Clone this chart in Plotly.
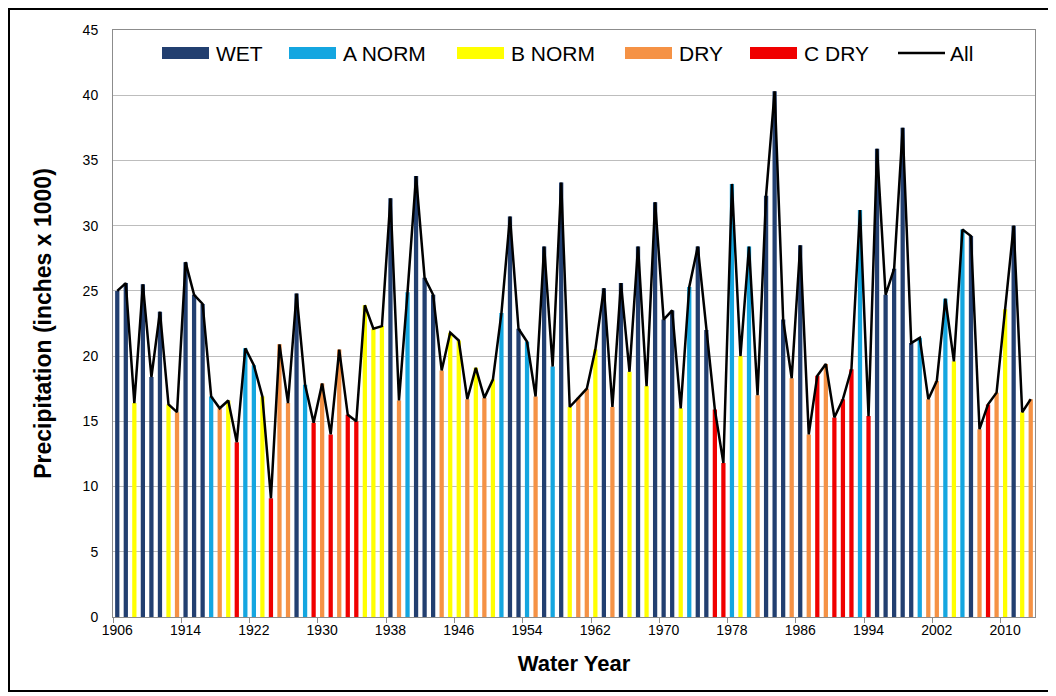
import plotly.graph_objects as go

# ---------------- data ----------------
years = list(range(1906, 2014))

precip = [
    25.0, 25.6, 16.4, 25.5, 18.4, 23.4, 16.3, 15.7, 27.2, 24.7,   # 1906-1915
    24.0, 16.9, 16.0, 16.6, 13.4, 20.6, 19.3, 16.9, 9.1, 20.9,    # 1916-1925
    16.4, 24.8, 17.8, 14.9, 17.9, 14.0, 20.5, 15.5, 15.0, 23.9,   # 1926-1935
    22.1, 22.3, 32.1, 16.6, 24.9, 33.8, 26.0, 24.7, 18.9, 21.8,   # 1936-1945
    21.2, 16.7, 19.1, 16.8, 18.2, 23.3, 30.7, 22.1, 21.1, 16.9,   # 1946-1955
    28.4, 19.2, 33.3, 16.1, 16.8, 17.5, 20.5, 25.2, 16.1, 25.6,   # 1956-1965
    18.8, 28.4, 17.7, 31.8, 22.8, 23.5, 16.0, 25.3, 28.4, 22.0,   # 1966-1975
    15.9, 11.8, 33.2, 20.0, 28.4, 17.0, 32.3, 40.3, 22.8, 18.3,   # 1976-1985
    28.5, 14.0, 18.5, 19.4, 15.3, 16.7, 19.0, 31.2, 15.4, 35.9,   # 1986-1995
    24.7, 26.7, 37.5, 21.0, 21.4, 16.7, 18.1, 24.4, 19.6, 29.7,   # 1996-2005
    29.2, 14.4, 16.3, 17.2, 23.6, 30.0, 15.7, 16.7,               # 2006-2013
]

year_type = [
    "W", "W", "BN", "W", "W", "W", "BN", "D", "W", "W",
    "W", "AN", "D", "BN", "C", "AN", "AN", "BN", "C", "D",
    "D", "W", "AN", "C", "D", "C", "D", "C", "C", "BN",
    "BN", "BN", "W", "D", "AN", "W", "W", "W", "D", "BN",
    "BN", "D", "BN", "D", "BN", "AN", "W", "W", "AN", "D",
    "W", "AN", "W", "BN", "D", "D", "BN", "W", "D", "W",
    "BN", "W", "BN", "W", "W", "W", "BN", "AN", "W", "W",
    "C", "C", "AN", "BN", "AN", "D", "W", "W", "W", "D",
    "W", "D", "C", "D", "C", "C", "C", "AN", "C", "W",
    "W", "W", "W", "W", "AN", "D", "D", "AN", "BN", "AN",
    "W", "D", "C", "D", "BN", "W", "BN", "D",
]

type_codes = ["W", "AN", "BN", "D", "C"]
type_names = ["WET", "A NORM", "B NORM", "DRY", "C DRY"]
type_colors = ["#223F70", "#14A6E0", "#FFFF00", "#F59245", "#F00000"]
line_name = "All"

tick_years = list(range(1906, 2014, 8))

# ---------------- layout geometry ----------------
FONT = "Liberation Sans, Arial, sans-serif"
FIG_W, FIG_H = 1044, 684
M_L, M_R, M_T, M_B = 105, 17, 22, 75
PW = FIG_W - M_L - M_R
PH = FIG_H - M_T - M_B
PAGE_OFF = 8  # default body margin of the html page


def px(sx):  # screen x -> paper x
    return (sx - PAGE_OFF - M_L) / PW


def py(sy):  # screen y -> paper y
    return (FIG_H - M_B - (sy - PAGE_OFF)) / PH


fig = go.Figure()

for code, name, color in zip(type_codes, type_names, type_colors):
    xs = [y for y, t in zip(years, year_type) if t == code]
    vs = [v for v, t in zip(precip, year_type) if t == code]
    fig.add_trace(go.Bar(
        x=xs, y=vs, name=name, width=0.5,
        marker=dict(color=color, line=dict(width=0)),
        showlegend=False,
    ))

fig.add_trace(go.Scatter(
    x=years, y=precip, mode="lines", name=line_name,
    line=dict(color="black", width=2.5), showlegend=False,
))

# ---------------- legend (wide swatches as in the original) ----------------
swatch_x = [162, 289, 457, 625, 750]
text_x = [214, 341, 509, 677, 802]
leg_y = 53
shapes = []
annotations = []
for sx, tx, name, color in zip(swatch_x, text_x, type_names, type_colors):
    shapes.append(dict(type="rect", xref="paper", yref="paper",
                       x0=px(sx), x1=px(sx + 47), y0=py(leg_y + 6), y1=py(leg_y - 6),
                       fillcolor=color, line=dict(width=0)))
    annotations.append(dict(text=name, xref="paper", yref="paper", x=px(tx), y=py(leg_y),
                            xanchor="left", yanchor="middle", showarrow=False,
                            font=dict(size=21, family=FONT, color="black")))
shapes.append(dict(type="line", xref="paper", yref="paper",
                   x0=px(898), x1=px(945), y0=py(leg_y), y1=py(leg_y),
                   line=dict(color="black", width=2.5)))
annotations.append(dict(text=line_name, xref="paper", yref="paper", x=px(948), y=py(leg_y),
                        xanchor="left", yanchor="middle", showarrow=False,
                        font=dict(size=21, family=FONT, color="black")))

# outer frame of the chart
shapes.append(dict(type="rect", xref="paper", yref="paper",
                   x0=(1 - M_L) / PW, x1=(FIG_W - 1 - M_L) / PW,
                   y0=(FIG_H - M_B - (FIG_H - 1)) / PH, y1=(FIG_H - M_B - 1) / PH,
                   line=dict(color="black", width=2), fillcolor="rgba(0,0,0,0)", layer="below"))

fig.update_layout(
    width=FIG_W, height=FIG_H,
    margin=dict(l=M_L, r=M_R, t=M_T, b=M_B, autoexpand=False),
    paper_bgcolor="white", plot_bgcolor="white",
    barmode="overlay",
    font=dict(family=FONT, color="black", size=14),
    showlegend=False,
    xaxis=dict(
        range=[1905.5, 2013.5], tickmode="array", tickvals=tick_years,
        ticktext=[str(t) for t in tick_years],
        ticks="", ticklen=5, tickcolor="#8C8C8C",
        minor=dict(tickmode="array", tickvals=[t - 0.5 for t in tick_years],
                   ticks="outside", ticklen=5, tickcolor="#8C8C8C", showgrid=False),
        showline=True, linecolor="#8C8C8C", linewidth=1, mirror=True,
        showgrid=False, zeroline=False,
        tickfont=dict(size=14, family=FONT, color="black"),
        title=dict(text="<b>Water Year</b>", font=dict(size=22, family=FONT), standoff=18),
    ),
    yaxis=dict(
        range=[0, 45], dtick=5, tick0=0,
        ticks="", showline=True, linecolor="#8C8C8C", linewidth=1, mirror=True,
        showgrid=True, gridcolor="#BDBDBD", gridwidth=1, zeroline=False,
        tickfont=dict(size=14, family=FONT, color="black"),
        ticklabelstandoff=11,
        title=dict(text="<b>Precipitation (inches x 1000)</b>", font=dict(size=23, family=FONT), standoff=24),
    ),
    shapes=shapes,
    annotations=annotations,
)

fig.write_html("out.html")
